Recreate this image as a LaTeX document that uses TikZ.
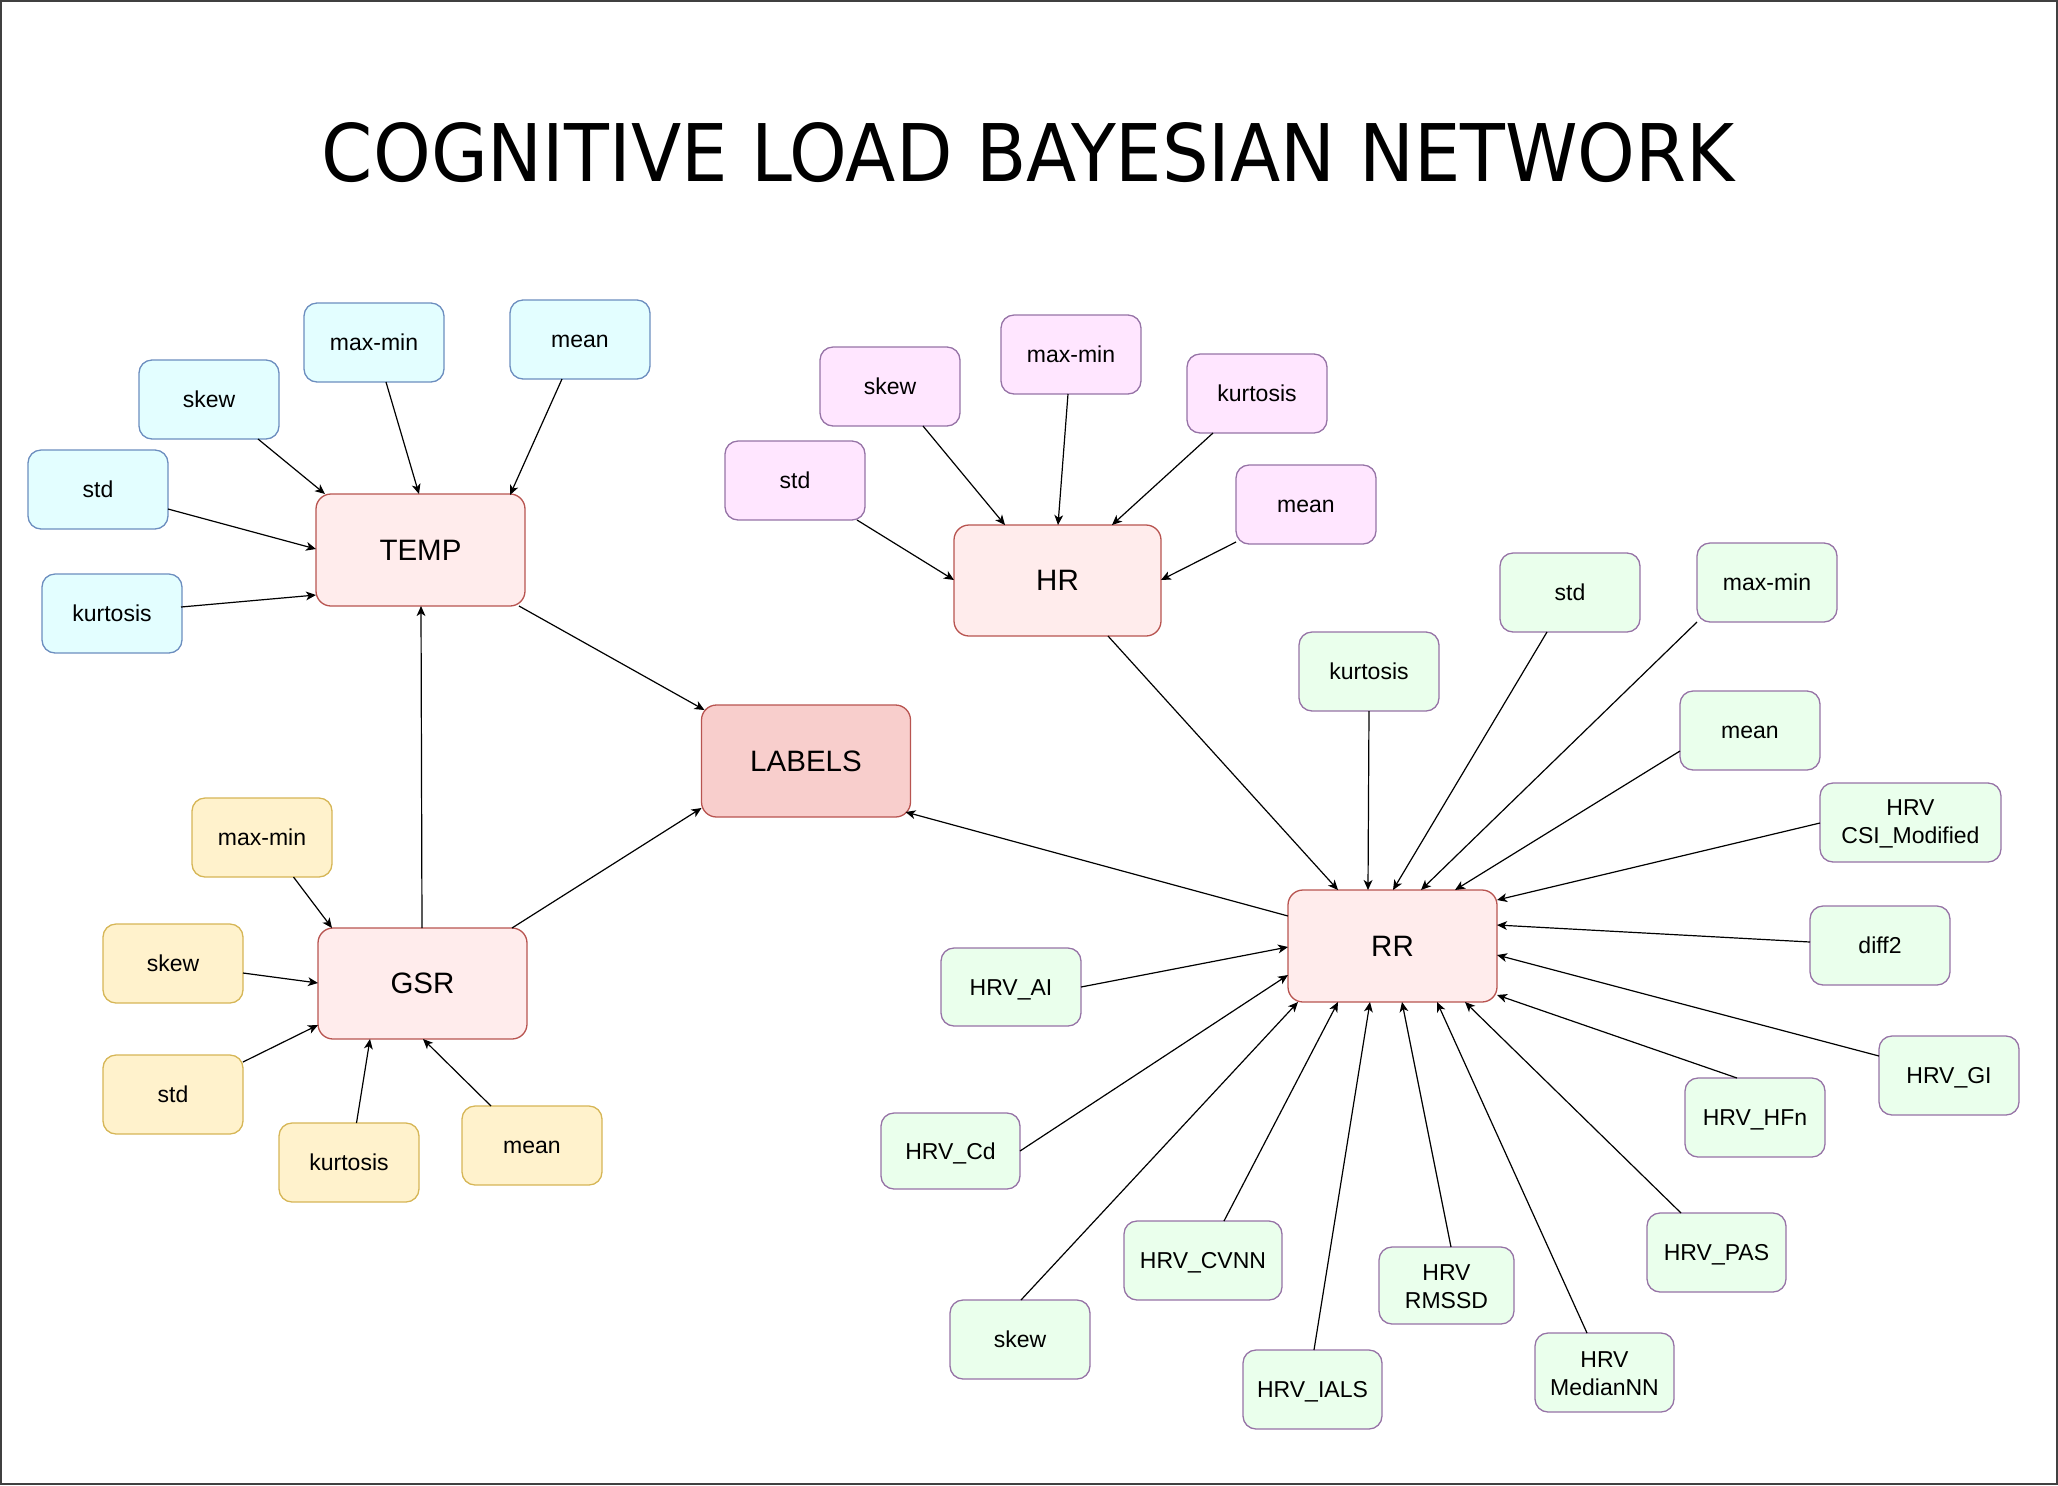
\documentclass[tikz,border=0pt]{standalone}
\usepackage{graphicx}
\usepackage{fontspec}
\setmainfont{Liberation Sans}
\newfontfamily\titlefont{DejaVu Sans}
\usetikzlibrary{arrows.meta}
\definecolor{cyanF}{HTML}{E3FEFF}
\definecolor{cyanD}{HTML}{6C8EBF}
\definecolor{pinkF}{HTML}{FFE6FF}
\definecolor{purpD}{HTML}{9673A6}
\definecolor{yelF}{HTML}{FFF2CC}
\definecolor{yelD}{HTML}{D6B656}
\definecolor{grnF}{HTML}{EAFFEC}
\definecolor{hubF}{HTML}{FFECEC}
\definecolor{hubD}{HTML}{B85450}
\definecolor{labF}{HTML}{F8CECC}
\begin{document}
\begin{tikzpicture}[x=0.5pt,y=-0.5pt,
  box/.style={draw, rounded corners=6.5pt, minimum width=70pt, minimum height=39.5pt,
    inner sep=0pt, outer sep=0pt, line width=0.65pt, align=center,
    font=\fontsize{11.5}{14}\selectfont},
  sl/.style={text height=8.4pt, text depth=0pt},
  ml/.style={yshift=0pt},
  ftemp/.style={box, sl, fill=cyanF, draw=cyanD},
  fhr/.style={box, sl, fill=pinkF, draw=purpD},
  fgsr/.style={box, sl, fill=yelF, draw=yelD},
  frr/.style={box, sl, fill=grnF, draw=purpD},
  frrml/.style={box, fill=grnF, draw=purpD},
  hub/.style={draw=hubD, fill=hubF, rounded corners=7.5pt, minimum width=104.5pt,
    minimum height=56pt, inner sep=0pt, outer sep=0pt, line width=0.65pt,
    font=\fontsize{14.75}{17}\selectfont},
  arr/.style={-{Stealth[length=5pt,width=4.4pt,inset=1.4pt]}, line width=0.6pt, draw=black}]
\useasboundingbox (0,0) rectangle (2058,1485);
\draw[line width=1pt, draw=black!75] (1,1) rectangle (2057,1484);

% title
\node[inner sep=0pt] (title) at (1028.5,152.5)
  {\resizebox{706.5pt}{29.5pt}{\titlefont COGNITIVE LOAD BAYESIAN NETWORK}};

% hubs
\node[hub] (temp) at (420.5,550) {TEMP};
\node[hub, minimum width=103.5pt, minimum height=55.5pt] (hr) at (1057.5,580.5) {HR};
\node[hub, fill=labF] (labels) at (806,761) {LABELS};
\node[hub, minimum height=55.5pt] (gsr) at (422.5,983.5) {GSR};
\node[hub] (rr) at (1392.5,946) {RR};

% TEMP features
\node[ftemp] (tskew) at (209,399.5) {skew};
\node[ftemp] (tmaxmin) at (374,342.5) {max-min};
\node[ftemp] (tmean) at (580,339.5) {mean};
\node[ftemp] (tstd) at (98,489.5) {std};
\node[ftemp] (tkurt) at (112,613.5) {kurtosis};

% HR features
\node[fhr] (hstd) at (795,480.5) {std};
\node[fhr] (hskew) at (890,386.5) {skew};
\node[fhr] (hmaxmin) at (1071,354.5) {max-min};
\node[fhr] (hkurt) at (1257,393.5) {kurtosis};
\node[fhr] (hmean) at (1306,504.5) {mean};

% GSR features
\node[fgsr] (gmaxmin) at (262,837.5) {max-min};
\node[fgsr] (gskew) at (173,963.5) {skew};
\node[fgsr] (gstd) at (173,1094.5) {std};
\node[fgsr] (gkurt) at (349,1162.5) {kurtosis};
\node[fgsr] (gmean) at (532,1145.5) {mean};

% RR features
\node[frr] (rkurt) at (1369,671.5) {kurtosis};
\node[frr] (rstd) at (1570,592.5) {std};
\node[frr] (rmaxmin) at (1767,582.5) {max-min};
\node[frr] (rmean) at (1750,730.5) {mean};
\node[frrml, minimum width=90.5pt] (rcsi) at (1910.5,822.5) {\rule{0pt}{9pt}HRV\\CSI\_Modified};
\node[frr] (rdiff) at (1880,945.5) {diff2};
\node[frr] (rgi) at (1949,1075.5) {HRV\_GI};
\node[frr] (rhfn) at (1755,1117.5) {HRV\_HFn};
\node[frr, minimum width=69.5pt] (rpas) at (1716.5,1252.5) {HRV\_PAS};
\node[frrml, minimum width=69.5pt] (rmedian) at (1604.5,1372.5) {\rule{0pt}{9pt}HRV\\MedianNN};
\node[frrml, minimum width=67.5pt, minimum height=38.5pt] (rrmssd) at (1446.5,1285.5) {\rule{0pt}{9pt}HRV\\RMSSD};
\node[frr, minimum width=69.5pt] (rials) at (1312.5,1389.5) {HRV\_IALS};
\node[frr, minimum width=79pt] (rcvnn) at (1203,1260.5) {HRV\_CVNN};
\node[frr] (rskew) at (1020,1339.5) {skew};
\node[frr, minimum width=69.5pt, minimum height=38pt] (rcd) at (950.5,1151) {HRV\_Cd};
\node[frr, minimum height=39pt] (rai) at (1011,987) {HRV\_AI};

% TEMP edges
\draw[arr] ([shift={(119,79)}]tskew.north west) -- ([shift={(9,0)}]temp.north west);
\draw[arr] ([shift={(82,79)}]tmaxmin.north west) -- ([shift={(103,0)}]temp.north west);
\draw[arr] ([shift={(52,79)}]tmean.north west) -- ([shift={(194,1)}]temp.north west);
\draw[arr] ([shift={(140,59)}]tstd.north west) -- ([shift={(0,55)}]temp.north west);
\draw[arr] ([shift={(139,33)}]tkurt.north west) -- ([shift={(0,101)}]temp.north west);

% hub edges
\draw[arr] ([shift={(203,112)}]temp.north west) -- ([shift={(3,5)}]labels.north west);
\draw[arr] ([shift={(104,0)}]gsr.north west) -- ([shift={(105,112)}]temp.north west);
\draw[arr] ([shift={(194,0)}]gsr.north west) -- ([shift={(0,103)}]labels.north west);
\draw[arr] ([shift={(0,26)}]rr.north west) -- ([shift={(204,107)}]labels.north west);
\draw[arr] ([shift={(154,111)}]hr.north west) -- ([shift={(50,0)}]rr.north west);

% HR edges
\draw[arr] ([shift={(132,79)}]hstd.north west) -- ([shift={(0,55)}]hr.north west);
\draw[arr] ([shift={(103,79)}]hskew.north west) -- ([shift={(51,0)}]hr.north west);
\draw[arr] ([shift={(67,79)}]hmaxmin.north west) -- ([shift={(104,0)}]hr.north west);
\draw[arr] ([shift={(26,79)}]hkurt.north west) -- ([shift={(158,0)}]hr.north west);
\draw[arr] ([shift={(0,77)}]hmean.north west) -- ([shift={(207,55)}]hr.north west);

% GSR edges
\draw[arr] ([shift={(101.5,79)}]gmaxmin.north west) -- ([shift={(14,0)}]gsr.north west);
\draw[arr] ([shift={(140,49)}]gskew.north west) -- ([shift={(0,55)}]gsr.north west);
\draw[arr] ([shift={(140,7)}]gstd.north west) -- ([shift={(0,97)}]gsr.north west);
\draw[arr] ([shift={(77.5,0)}]gkurt.north west) -- ([shift={(52,111)}]gsr.north west);
\draw[arr] ([shift={(29,0)}]gmean.north west) -- ([shift={(105,111)}]gsr.north west);

% RR edges
\draw[arr] ([shift={(70,79)}]rkurt.north west) -- ([shift={(80,0)}]rr.north west);
\draw[arr] ([shift={(47,79)}]rstd.north west) -- ([shift={(105,0)}]rr.north west);
\draw[arr] ([shift={(0,79)}]rmaxmin.north west) -- ([shift={(133,0)}]rr.north west);
\draw[arr] ([shift={(0,60)}]rmean.north west) -- ([shift={(167,0)}]rr.north west);
\draw[arr] ([shift={(0,40)}]rcsi.north west) -- ([shift={(209,10)}]rr.north west);
\draw[arr] ([shift={(0,36)}]rdiff.north west) -- ([shift={(209,35)}]rr.north west);
\draw[arr] ([shift={(0,20)}]rgi.north west) -- ([shift={(209,65)}]rr.north west);
\draw[arr] ([shift={(52,0)}]rhfn.north west) -- ([shift={(209,105)}]rr.north west);
\draw[arr] ([shift={(34,0)}]rpas.north west) -- ([shift={(177,112)}]rr.north west);
\draw[arr] ([shift={(52,0)}]rmedian.north west) -- ([shift={(149,112)}]rr.north west);
\draw[arr] ([shift={(72,0)}]rrmssd.north west) -- ([shift={(114,112)}]rr.north west);
\draw[arr] ([shift={(71,0)}]rials.north west) -- ([shift={(82,112)}]rr.north west);
\draw[arr] ([shift={(100,0)}]rcvnn.north west) -- ([shift={(50,112)}]rr.north west);
\draw[arr] ([shift={(71,0)}]rskew.north west) -- ([shift={(10,112)}]rr.north west);
\draw[arr] ([shift={(139,38)}]rcd.north west) -- ([shift={(0,85)}]rr.north west);
\draw[arr] ([shift={(140,39)}]rai.north west) -- ([shift={(0,57)}]rr.north west);
\end{tikzpicture}
\end{document}
